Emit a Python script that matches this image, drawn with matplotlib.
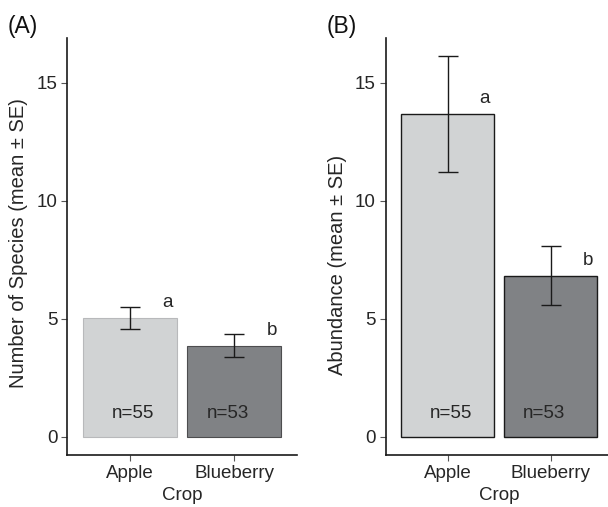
import numpy as np
import matplotlib
matplotlib.use("Agg")
import matplotlib.pyplot as plt

plt.rcParams['font.family'] = ['Liberation Sans', 'DejaVu Sans']

# data
crops = ['Apple', 'Blueberry']
species_mean = [5.03, 3.86]
species_se = [0.45, 0.50]
abund_mean = [13.67, 6.82]
abund_se = [2.47, 1.26]
n_labels = ['n=55', 'n=53']
letters = ['a', 'b']

fills = ['#d1d3d4', '#808285']
txt = '#262626'

W, H = 608, 507
fig = plt.figure(figsize=(W / 100, H / 100), dpi=100)

def px_axes(x0, y0, x1, y1):
    return fig.add_axes([x0 / W, 1 - y1 / H, (x1 - x0) / W, (y1 - y0) / H])

axA = px_axes(67, 38, 297, 455)
axB = px_axes(385.7, 38, 612.3, 455)

x = np.arange(1, len(crops) + 1)
n_dx = [0.03, -0.06]

def panel(ax, means, ses, edges, lw, tag, ylabel, ylab_y):
    ax.bar(x, means, width=0.9, color=fills, edgecolor=edges, linewidth=lw, zorder=2)
    ax.errorbar(x, means, yerr=ses, fmt='none', ecolor='#1a1a1a',
                elinewidth=1.0, capsize=7.3, capthick=1.0, zorder=3)
    for xi, m, lt in zip(x, means, letters):
        ax.text(xi + 0.36, m + 0.65, lt, fontsize=13.5,
                color=txt, ha='center', va='center')
    for xi, dx, lab in zip(x, n_dx, n_labels):
        ax.text(xi + dx, 0.96, lab, fontsize=13.5, color=txt,
                ha='center', va='center')
    ax.set_xlim(0.4, 2.6)
    ax.set_ylim(-0.78, 16.9)
    ax.set_yticks([0, 5, 10, 15])
    ax.set_xticks(x)
    ax.set_xticklabels(crops)
    ax.tick_params(labelsize=13.5, labelcolor=txt, color='#555555',
                   length=4, width=0.8, pad=3)
    for s in ['top', 'right']:
        ax.spines[s].set_visible(False)
    for s in ['left', 'bottom']:
        ax.spines[s].set_linewidth(1.2)
        ax.spines[s].set_color('#1a1a1a')
    ax.set_xlabel('Crop', fontsize=13.5, color=txt, labelpad=4)
    ax.set_ylabel(ylabel, fontsize=14.5, color=txt)
    ax.yaxis.set_label_coords(-0.17, ylab_y)
    ax.text(-0.26, 1.0, tag, transform=ax.transAxes, fontsize=16.5,
            color='#111111', ha='left', va='bottom')

panel(axA, species_mean, species_se, ['#b8b9bb', '#4d4d4f'], 0.8,
      '(A)', 'Number of Species (mean ± SE)', 0.508)
panel(axB, abund_mean, abund_se, ['#1a1a1a', '#1a1a1a'], 1.0,
      '(B)', 'Abundance (mean ± SE)', 0.455)

fig.savefig('out.png', dpi=100)
